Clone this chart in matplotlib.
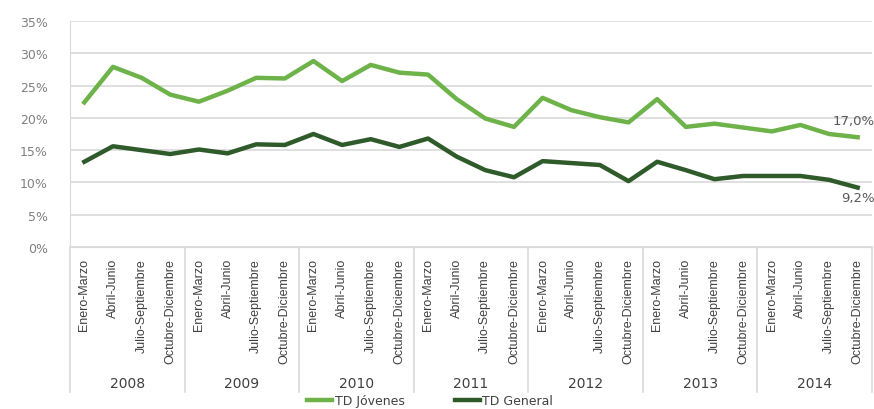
import matplotlib.pyplot as plt

years = ['2008', '2009', '2010', '2011', '2012', '2013', '2014']
quarters = ['Enero-Marzo', 'Abril-Junio', 'Julio-Septiembre', 'Octubre-Diciembre']

td_jovenes = [22.4, 27.9, 26.2, 23.6, 22.5, 24.2, 26.2, 26.1,
              28.8, 25.7, 28.2, 27.0, 26.7, 22.9, 19.9, 18.6,
              23.1, 21.2, 20.1, 19.3, 22.9, 18.6, 19.1, 18.5,
              17.9, 18.9, 17.5, 17.0]
td_general = [13.2, 15.6, 15.0, 14.4, 15.1, 14.5, 15.9, 15.8,
              17.5, 15.8, 16.7, 15.5, 16.8, 14.0, 11.9, 10.8,
              13.3, 13.0, 12.7, 10.2, 13.2, 11.9, 10.5, 11.0,
              11.0, 11.0, 10.4, 9.2]

light = '#6db34a'
dark = '#2f5a2a'
grey = '#808080'
narrow = ['Liberation Sans', 'DejaVu Sans']

fig = plt.figure(figsize=(8.74, 4.10), dpi=100)
ax = fig.add_axes([70 / 874, 162 / 410, 802 / 874, 226 / 410])

x = list(range(len(td_jovenes)))
ax.plot(x, td_jovenes, color=light, lw=3.2, solid_joinstyle='round', label='TD Jóvenes')
ax.plot(x, td_general, color=dark, lw=3.2, solid_joinstyle='round', label='TD General')

ax.set_xlim(-0.5, len(x) - 0.5)
ax.set_ylim(0, 35)
ax.set_yticks(range(0, 36, 5))
ax.set_yticklabels([f'{v}%' for v in range(0, 36, 5)], color=grey, fontsize=9)
ax.grid(axis='y', color='#d9d9d9', lw=1.2)
ax.set_axisbelow(True)

for s in ['top', 'right']:
    ax.spines[s].set_visible(False)
ax.spines['left'].set_color('#d9d9d9')
ax.spines['bottom'].set_color('#d9d9d9')

ax.set_xticks(x)
ax.set_xticklabels(quarters * len(years), rotation=90, fontsize=9,
                   color='#404040', family=narrow, va='top')
ax.tick_params(axis='x', length=0, pad=8)
ax.tick_params(axis='y', length=0, pad=16)

# year group separators and labels
for k, yr in enumerate(years):
    ax.text(4 * k + 1.5, -0.6, yr, transform=ax.get_xaxis_transform(),
            ha='center', va='center', fontsize=10, color='#404040')
for k in range(len(years) + 1):
    ax.plot([4 * k - 0.5, 4 * k - 0.5], [0, -0.64], transform=ax.get_xaxis_transform(),
            color='#d9d9d9', lw=1.2, clip_on=False)

ax.text(1.003, 0.56, '17,0%', transform=ax.transAxes, ha='right', va='center',
        fontsize=9.5, color='#595959')
ax.text(1.003, 0.22, '9,2%', transform=ax.transAxes, ha='right', va='center',
        fontsize=9.5, color='#595959')

fig.legend(loc='center', bbox_to_anchor=(0.492, 0.02), ncol=2, frameon=False,
           fontsize=9, handlelength=2.0, handletextpad=0.2, columnspacing=4.0,
           labelcolor='#404040', borderpad=0)

plt.savefig('out.png', dpi=100)
